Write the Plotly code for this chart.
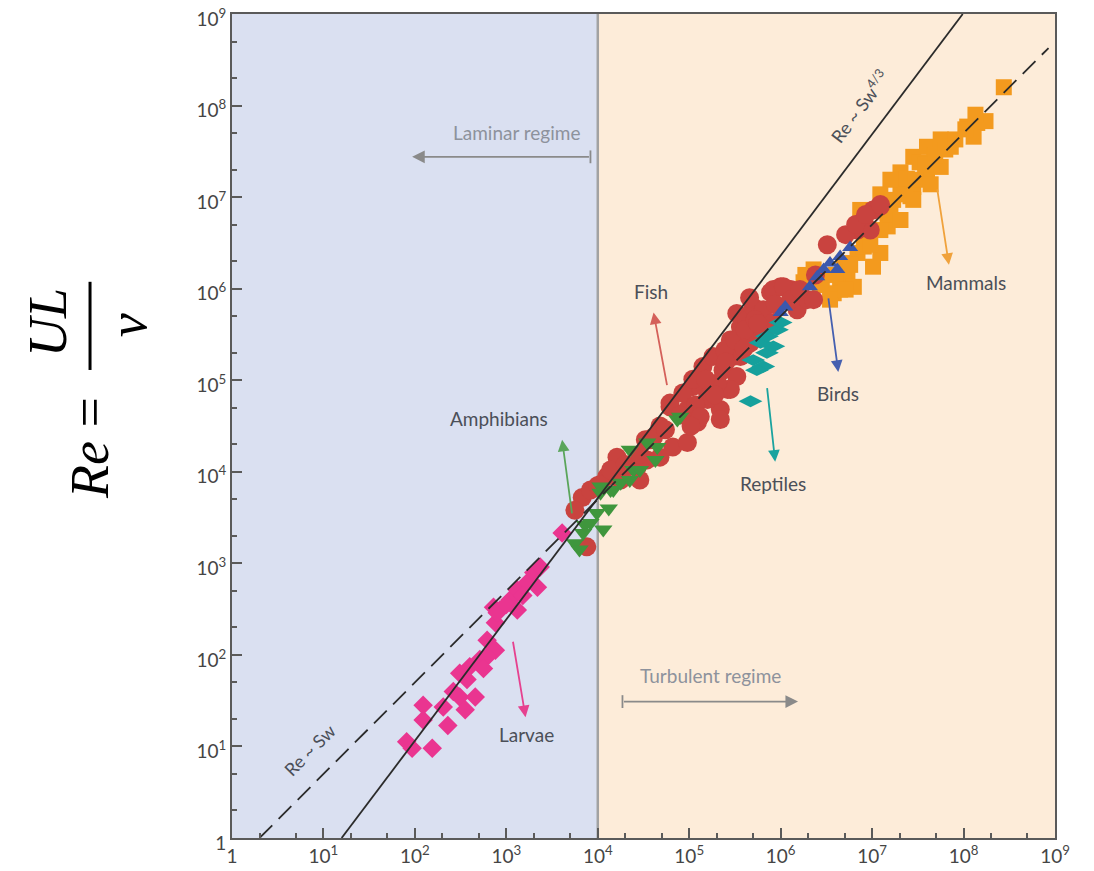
import plotly.graph_objects as go

# ---- data (stored as log10 exponents) ----
larvae_log_sw = [1.91, 2.19, 1.97, 2.09, 2.09, 2.31, 2.36, 2.49, 2.55, 2.49, 2.57, 2.66, 2.60, 2.71,
                 2.79, 2.88, 2.79, 2.88, 2.86, 2.93, 3.04, 3.12, 3.12, 3.23, 3.30, 3.37, 3.34, 2.90, 3.61,
                 2.42, 2.75, 3.00, 3.18]
larvae_log_re = [1.05, 0.98, 0.98, 1.45, 1.29, 1.43, 1.23, 1.54, 1.40, 1.80, 1.73, 1.54, 1.87, 1.95,
                 2.16, 2.05, 1.98, 2.35, 2.52, 2.49, 2.60, 2.49, 2.71, 2.79, 2.90, 2.96, 2.74, 2.46, 3.33,
                 1.60, 1.85, 2.55, 2.65]

amph_log_sw = [3.75, 3.84, 3.92, 4.06, 3.99, 4.03, 4.17, 4.25, 4.35, 4.39, 4.35, 4.54, 4.65, 4.87,
               4.90, 4.03, 3.80, 4.12, 3.86, 4.14, 4.46, 4.63]
amph_log_re = [3.22, 3.33, 3.44, 3.37, 3.55, 3.77, 3.80, 3.88, 3.91, 4.02, 4.24, 4.32, 4.27, 4.57,
               4.60, 3.84, 3.15, 3.60, 3.42, 3.80, 4.02, 4.13]

fish_log_sw = [3.83, 3.92, 4.21, 4.25, 4.43, 4.54, 4.68, 4.82, 4.98, 4.79, 4.98, 5.09, 5.20, 5.04,
               4.61, 4.32, 4.46, 3.88, 4.79, 4.93, 5.04, 5.15, 5.26, 5.34, 5.42, 5.37, 5.48, 5.45,
               5.56, 5.52, 5.63, 5.70, 5.81, 5.89, 6.00, 5.92, 5.78, 5.67, 5.56, 5.52, 5.45, 6.18,
               6.29, 6.11, 5.31, 5.20, 5.92, 6.03, 6.36, 6.51, 6.84, 6.91, 7.01, 7.09, 6.98, 4.52,
               4.68, 5.34, 4.10, 4.00,
               4.03, 4.14, 4.30, 4.46, 4.57, 4.74, 4.90, 5.07, 5.18, 5.28, 5.39, 5.50, 5.61, 5.72,
               5.83, 5.94, 6.11, 6.21, 6.38, 6.71, 6.82, 6.93, 7.09, 3.75,
               5.40, 5.60, 5.75, 5.12, 5.02, 5.66]
fish_log_re = [3.72, 3.80, 4.16, 3.91, 4.05, 4.13, 4.16, 4.27, 4.32, 4.71, 4.68, 4.54, 4.86, 4.93,
               4.38, 4.05, 3.91, 3.18, 4.75, 4.86, 5.01, 5.15, 5.26, 4.68, 4.90, 5.11, 5.26, 5.44,
               5.58, 5.73, 5.66, 5.80, 5.77, 5.96, 6.02, 5.63, 5.48, 5.41, 5.26, 5.04, 4.90, 5.77,
               5.88, 5.99, 4.97, 4.79, 5.99, 6.02, 5.88, 6.48, 6.64, 6.75, 6.86, 6.90, 6.64, 4.35,
               4.50, 4.57, 3.95, 3.85,
               3.86, 4.02, 4.08, 4.19, 4.35, 4.46, 4.62, 4.73, 5.01, 4.84, 5.33, 5.44, 5.55, 5.66,
               5.55, 5.83, 5.88, 5.99, 6.15, 6.59, 6.70, 6.81, 6.92, 3.58,
               5.20, 5.35, 5.62, 4.60, 4.50, 5.90]

rept_log_sw = [5.67, 5.70, 5.81, 5.85, 5.92, 5.78, 5.85, 5.96, 6.00, 5.74]
rept_log_re = [4.77, 5.22, 5.15, 5.30, 5.37, 5.41, 5.48, 5.55, 5.63, 5.11]

bird_log_sw = [6.00, 6.32, 6.47, 6.54, 6.65, 6.76, 6.62, 6.40, 6.05]
bird_log_re = [5.74, 6.02, 6.21, 6.28, 6.35, 6.45, 6.21, 6.13, 5.80]

mam_log_sw = [6.25, 6.36, 6.65, 6.73, 6.69, 6.84, 6.91, 6.87, 7.17, 7.23, 7.31, 7.42, 7.06, 7.31,
              7.45, 7.60, 7.75, 7.86, 7.45, 7.60, 7.75, 7.45, 7.17, 8.04, 8.15, 8.11, 8.44, 7.09,
              7.01, 6.69, 6.80, 6.95, 7.52, 7.68, 7.38, 6.58, 6.45,
              6.16, 6.27, 6.43, 6.60, 6.76, 6.54, 6.71, 6.98, 7.09, 7.20, 7.31, 7.36, 7.47, 7.58,
              7.69, 7.80, 7.91, 8.02, 8.24, 8.13, 7.64, 7.20, 7.09]
mam_log_re = [6.07, 6.21, 5.99, 6.10, 6.28, 6.39, 6.46, 6.86, 6.68, 6.97, 7.11, 7.01, 6.86, 7.27,
              7.44, 7.55, 7.63, 7.55, 7.11, 7.27, 7.33, 6.97, 6.83, 7.77, 7.81, 7.66, 8.20, 6.39,
              6.24, 6.13, 6.02, 6.55, 7.38, 7.45, 7.20, 5.95, 6.10,
              5.99, 6.15, 6.04, 6.15, 6.26, 5.88, 5.99, 6.48, 6.64, 6.81, 6.75, 7.03, 7.19, 7.36,
              7.46, 7.52, 7.63, 7.74, 7.83, 7.90, 7.14, 7.19, 7.03]

# reference scaling lines (endpoints)
sw_43_line = [15.8, 9.8e7]
re_43_line = [1.0, 1.0e9]
sw_1_line = [2.0, 8.5e8]
re_1_line = [1.0, 4.25e8]

tick_vals = [1, 1e1, 1e2, 1e3, 1e4, 1e5, 1e6, 1e7, 1e8, 1e9]
tick_text = ["1"] + ["10<sup>%d</sup>" % k for k in range(1, 10)]


def pw(lst):
    return [10 ** v for v in lst]


fig = go.Figure()

groups = [
    ("Mammals", mam_log_sw, mam_log_re, "#f39a1e", "square", 16),
    ("Fish", fish_log_sw, fish_log_re, "#c9433f", "circle", 19),
    ("Amphibians", amph_log_sw, amph_log_re, "#3f963d", "triangle-down", 16),
    ("Reptiles", rept_log_sw, rept_log_re, "#16a09c", "diamond-wide", 17),
    ("Birds", bird_log_sw, bird_log_re, "#3b58ad", "triangle-up", 14),
    ("Larvae", larvae_log_sw, larvae_log_re, "#ea3590", "diamond", 15),
]
for name, xs, ys, col, sym, sz in groups:
    fig.add_trace(go.Scatter(x=pw(xs), y=pw(ys), mode="markers", name=name,
                             marker=dict(color=col, symbol=sym, size=sz, line=dict(width=0))))

fig.add_trace(go.Scatter(x=sw_43_line, y=re_43_line, mode="lines",
                         line=dict(color="#2b2b2b", width=1.8), name="Re~Sw^4/3"))
fig.add_trace(go.Scatter(x=sw_1_line, y=re_1_line, mode="lines",
                         line=dict(color="#2b2b2b", width=1.8, dash="18px,9px"), name="Re~Sw"))

shapes = [
    dict(type="rect", xref="x", yref="paper", x0=1, x1=1e4, y0=0, y1=1,
         fillcolor="#dae0f1", line=dict(width=0), layer="below"),
    dict(type="line", xref="x", yref="paper", x0=1e4, x1=1e4, y0=0, y1=1,
         line=dict(color="#a2a2a2", width=2.5), layer="below"),
    # regime arrow end bars
    dict(type="line", xref="x", yref="y", x0=10 ** 3.92, x1=10 ** 3.92, y0=10 ** 7.37, y1=10 ** 7.51,
         line=dict(color="#8a8a8a", width=1.8)),
    dict(type="line", xref="x", yref="y", x0=10 ** 4.27, x1=10 ** 4.27, y0=10 ** 1.42, y1=10 ** 1.56,
         line=dict(color="#8a8a8a", width=1.8)),
    # fraction bar of the y title
    dict(type="line", xref="paper", yref="paper", x0=-0.1725, x1=-0.1725, y0=0.568, y1=0.675,
         line=dict(color="black", width=3)),
]

lab_font = dict(family="Lato, Open Sans, sans-serif", size=19, color="#4b4f58")
grey_font = dict(family="Lato, Open Sans, sans-serif", size=19, color="#8d929c")

annotations = []


def label(text, xl, yl, font=lab_font, angle=0):
    annotations.append(dict(x=xl, y=yl, xref="x", yref="y", text=text, showarrow=False,
                            font=font, textangle=angle, xanchor="center", yanchor="middle"))


def arrow(x_tail, y_tail, x_head, y_head, col, size=1.3):
    annotations.append(dict(x=x_head, y=y_head, ax=x_tail, ay=y_tail, xref="x", yref="y",
                            axref="x", ayref="y", text="", showarrow=True, arrowhead=2,
                            arrowsize=size, arrowwidth=1.8, arrowcolor=col, standoff=0,
                            startstandoff=0))


label("Mammals", 8.03, 6.07)
label("Fish", 4.58, 5.97)
label("Birds", 6.63, 4.86)
label("Reptiles", 5.92, 3.87)
label("Amphibians", 2.92, 4.58)
label("Larvae", 3.22, 1.13)
label("Laminar regime", 3.11, 7.71, grey_font)
label("Turbulent regime", 5.23, 1.78, grey_font)
label("Re ~ Sw<sup>4/3</sup>", 6.87, 7.99, dict(family="Lato, Open Sans, sans-serif", size=18, color="#4b4f58"), -53)
label("Re ~ Sw", 0.85, 0.96, dict(family="Lato, Open Sans, sans-serif", size=18, color="#4b4f58"), -45)

arrow(7.71, 7.10, 7.84, 6.26, "#f0a23c")
arrow(4.76, 4.93, 4.61, 5.74, "#d4605a")
arrow(6.52, 5.91, 6.63, 5.09, "#4660b0")
arrow(5.85, 4.93, 5.94, 4.11, "#1aa39f")
arrow(3.72, 3.53, 3.61, 4.35, "#5aa55a")
arrow(3.07, 2.16, 3.21, 1.32, "#e6418f")
arrow(3.92, 7.44, 1.97, 7.44, "#8a8a8a", 1.4)
arrow(4.27, 1.49, 6.19, 1.49, "#8a8a8a", 1.4)

# y-axis title: Re = UL / nu (built from rotated text pieces)
serif = "Liberation Serif, Times New Roman, serif"
annotations.append(dict(x=-0.1725, y=0.4733, xref="paper", yref="paper", text="<i>Re</i> =",
                        showarrow=False, textangle=-90, font=dict(family=serif, size=54, color="black"),
                        xanchor="center", yanchor="middle"))
annotations.append(dict(x=-0.2236, y=0.6262, xref="paper", yref="paper", text="<i>UL</i>",
                        showarrow=False, textangle=-90, font=dict(family=serif, size=54, color="black"),
                        xanchor="center", yanchor="middle"))
annotations.append(dict(x=-0.126, y=0.6226, xref="paper", yref="paper", text="<i>ν</i>",
                        showarrow=False, textangle=-90, font=dict(family=serif, size=54, color="black"),
                        xanchor="center", yanchor="middle"))

axis_common = dict(
    type="log", range=[0, 9], tickmode="array", tickvals=tick_vals, ticktext=tick_text,
    ticks="inside", ticklen=10, tickwidth=2, tickcolor="#5a5a5a",
    showline=True, linecolor="#5a5a5a", linewidth=2, mirror=True,
    showgrid=False, zeroline=False, automargin=False, ticklabeloverflow="allow",
    tickfont=dict(family="Lato, Open Sans, sans-serif", size=19, color="#454545"),
    minor=dict(ticks="inside", ticklen=5, tickwidth=1.5, tickcolor="#5a5a5a", showgrid=False),
)

fig.update_layout(
    width=1094, height=871,
    margin=dict(l=232, r=39, t=14, b=33),
    paper_bgcolor="white", plot_bgcolor="#fdecd9",
    showlegend=False,
    xaxis=axis_common, yaxis=axis_common,
    shapes=shapes, annotations=annotations,
)
fig.update_yaxes(ticklabelshift=5)

# place the figure flush with the page corner
fig.write_html("out.html", config={"displayModeBar": False},
               post_script="document.body.style.margin='0px';")
